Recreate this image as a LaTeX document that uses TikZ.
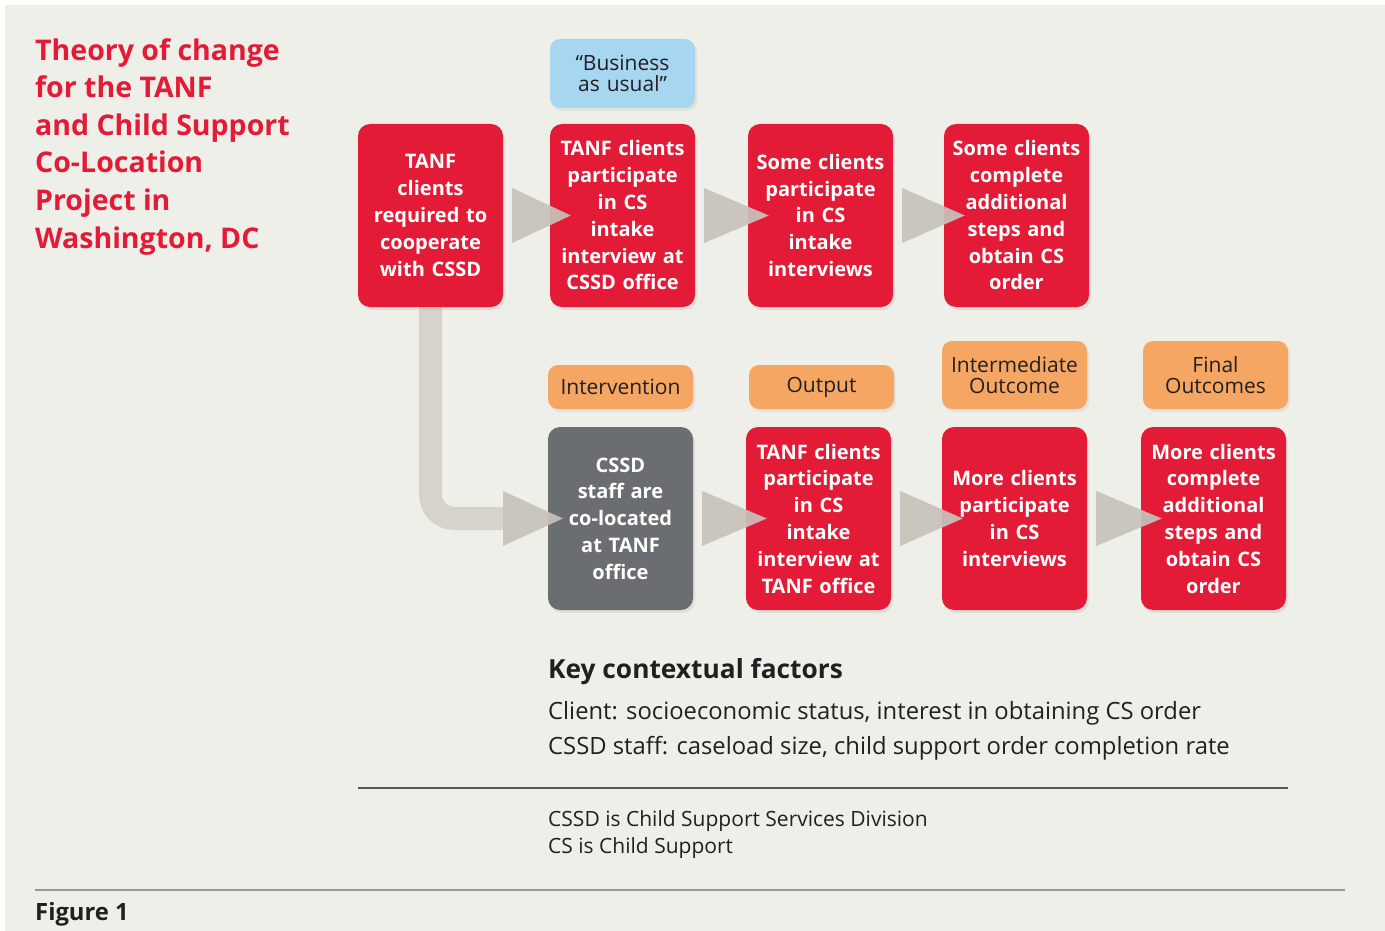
\documentclass[tikz,border=0pt]{standalone}
\usepackage{fontspec}
\setmainfont{Open Sans}
\usetikzlibrary{calc,shadows}
\definecolor{tocred}{HTML}{E31B36}
\definecolor{tocblue}{HTML}{A7D6F1}
\definecolor{tocorange}{HTML}{F5A663}
\definecolor{tocgray}{HTML}{6B6E70}
\definecolor{tocarrow}{HTML}{C7C2BA}
\definecolor{tocpath}{HTML}{D8D3CA}
\definecolor{tocbg}{HTML}{EFEFEA}
\definecolor{tocink}{HTML}{231F20}
\tikzset{
  stepbox/.style={fill=tocred, rounded corners=12pt, minimum width=145pt,
    minimum height=183pt, text width=142pt, align=center, inner sep=0pt,
    text=white, font=\bfseries\fontsize{20}{26.8}\selectfont,
    drop shadow={opacity=.15, shadow xshift=2pt, shadow yshift=-3pt}},
  tag/.style={fill=tocorange, rounded corners=10pt, minimum width=145pt,
    text width=142pt, align=center, inner sep=0pt, text=tocink,
    font=\fontsize{21}{21}\selectfont,
    drop shadow={opacity=.12, shadow xshift=2pt, shadow yshift=-3pt}},
  flow/.style={fill=tocarrow, opacity=.92},
}
\begin{document}
\begin{tikzpicture}[x=1pt,y=-1pt]
\useasboundingbox (0,0) rectangle (1385,931);
\fill[tocbg] (5,5) rectangle (1385,931);

% title
\node[anchor=north west, align=left, inner sep=0pt, text=tocred,
  font=\bfseries\fontsize{28.5}{37.6}\selectfont] (title) at (35,38)
  {Theory of change\\for the TANF\\and Child Support\\Co-Location\\Project in\\Washington, DC};

% path from the first box down to the intervention
\path (620.5,518.5) coordinate (cssdpos);
\coordinate (lcorner) at ($(cssdpos)+(-117.5,0)$);
\draw[tocpath, line width=23pt, rounded corners=24pt] (430.5,250) |- (lcorner);

% business as usual row
\node[stepbox] (require) at (430.5,215.5) {TANF\\clients\\required to\\cooperate\\with CSSD};
\node[stepbox] (csintake) at (622.5,215.5) {TANF clients\\participate\\in CS\\intake\\interview at\\CSSD office};
\node[stepbox] (someint) at (820.5,215.5) {Some clients\\participate\\in CS\\intake\\interviews};
\node[stepbox] (someorder) at (1016.5,215.5) {Some clients\\complete\\additional\\steps and\\obtain CS\\order};
\node[tag, fill=tocblue, minimum height=69pt] (bau) at (622.5,73.5) {``Business\\as usual''};

% intervention row
\node[tag, minimum height=44pt] (intervention) at (620.5,387) {Intervention};
\node[tag, minimum height=44pt] (output) at (821.5,387) {Output};
\node[tag, minimum height=68pt] (intermediate) at (1014.5,375) {Intermediate\\Outcome};
\node[tag, minimum height=68pt] (final) at (1215.5,375) {Final\\Outcomes};

\node[stepbox, fill=tocgray] (colocate) at (cssdpos) {CSSD\\staff are\\co-located\\at TANF\\office};
\node[stepbox] (tanfintake) at (818.5,518.5) {TANF clients\\participate\\in CS\\intake\\interview at\\TANF office};
\node[stepbox] (moreint) at (1014.5,518.5) {More clients\\participate\\in CS\\interviews};
\node[stepbox] (moreorder) at (1213.5,518.5) {More clients\\complete\\additional\\steps and\\obtain CS\\order};

% arrows
\foreach \a/\b in {require/csintake, csintake/someint, someint/someorder,
  colocate/tanfintake, tanfintake/moreint, moreint/moreorder}
  \fill[flow] ($(\a.east)+(9,-27.5)$) -- ($(\b.west)+(21,0)$) -- ($(\a.east)+(9,27.5)$) -- cycle;
\fill[flow] ($(lcorner)+(0,-27.5)$) -- ($(colocate.west)+(15,0)$) -- ($(lcorner)+(0,27.5)$) -- cycle;

% contextual factors
\node[anchor=base west, inner sep=0pt, text=tocink, font=\bfseries\fontsize{26.3}{30}\selectfont]
  (keyhead) at (548,678) {Key contextual factors};
\node[anchor=base west, inner sep=0pt, text=tocink, font=\fontsize{23.8}{35}\selectfont]
  (client) at (548,719) {Client: socioeconomic status, interest in obtaining CS order};
\node[anchor=base west, inner sep=0pt, text=tocink, font=\fontsize{23.8}{35}\selectfont]
  (staff) at (548,754) {CSSD staff: caseload size, child support order completion rate};
\draw[tocink!75, line width=1.3pt] (358,788) -- (1288,788);

% notes
\node[anchor=base west, inner sep=0pt, text=tocink, font=\fontsize{21}{27}\selectfont]
  (note1) at (548,826) {CSSD is Child Support Services Division};
\node[anchor=base west, inner sep=0pt, text=tocink, font=\fontsize{21}{27}\selectfont]
  (note2) at (548,853) {CS is Child Support};
\draw[black!40, line width=2.2pt] (35,890) -- (1345,890);
\node[anchor=base west, inner sep=0pt, text=tocink, font=\bfseries\fontsize{23.8}{26}\selectfont]
  (figlabel) at (35,920) {Figure 1};
\end{tikzpicture}
\end{document}
